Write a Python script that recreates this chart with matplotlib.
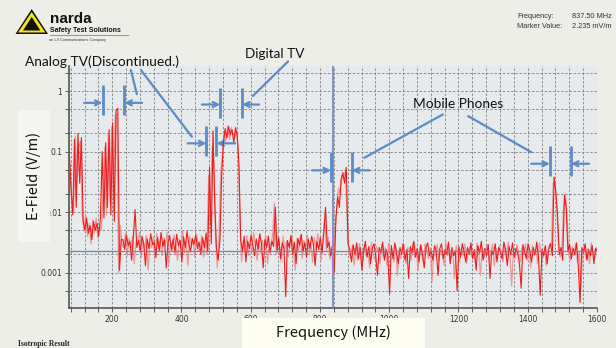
import numpy as np
import matplotlib
matplotlib.use("Agg")
import matplotlib.pyplot as plt
from matplotlib.patches import Rectangle, Polygon
from matplotlib.ticker import FixedLocator, NullFormatter, FixedFormatter

# ---------------- data (E-field in mV/m) ----------------
# main (red) trace: sweep from 76 MHz, 5 MHz step
RED_START_MHZ = 76
# overlay (pink) trace: sweep from 78.5 MHz, 5 MHz step
PINK_START_MHZ = 78.5
SWEEP_STEP_MHZ = 5

fm_band = [90, 25, 9, 160, 12, 200, 30, 170]
vhf_floor = [7, 5, 8, 4.5, 6, 3.5, 7, 5, 6.5, 4, 8]
vhf_analog_tv = [100, 8, 140, 12, 230, 9, 300, 7, 480, 520, 1.1, 3.5]
uhf_floor_1 = [3.5, 2.4, 4.2, 2.8, 3.3, 1.6, 3.9, 11, 2.6, 3.4,
               2.2, 4.0, 3.0, 1.3, 3.6, 2.5, 4.4, 2.9, 3.2, 1.8,
               3.8, 2.3, 4.6, 2.7, 3.5, 1.2, 3.1, 4.1, 2.4, 3.6,
               2.1, 4.3, 2.8, 3.4, 1.5, 3.9, 2.6, 4.8, 3.0, 2.2,
               3.7, 2.9, 4.2, 2.5]
uhf_analog_tv = [3.2, 2.0, 3.8, 2.6, 4.5, 2.2, 55, 3.0, 220, 15, 2.5, 1.6, 3.5]
digital_tv = [40, 140, 240, 170, 260, 190, 230, 140, 250, 180, 60]
uhf_floor_2 = [3.5, 2.2, 4.0, 1.5, 3.3, 2.5, 4.2, 2.8, 1.9, 3.6,
               2.4, 4.4, 3.0, 1.2, 3.5, 2.6, 4.0, 2.1, 3.3, 2.7,
               12, 2.3, 3.8, 1.7, 3.1, 2.5, 0.4, 3.4, 2.6, 4.1,
               2.0, 3.2, 1.4, 3.7, 2.8, 4.3, 2.2, 3.1, 1.8, 3.6,
               2.5, 4.0, 2.9, 1.3, 3.3, 2.4, 3.8, 2.1, 4.5, 12,
               2.6, 3.2, 1.9, 2.8, 1.0]
gsm_900 = [8, 18, 12, 35, 45, 30, 55, 3.0]
lband_floor = [2.4, 1.5, 2.9, 2.0, 3.1, 1.7, 2.6, 1.1, 2.3, 3.3,
               1.8, 2.7, 1.4, 2.5, 3.0, 1.9, 0.9, 2.6, 2.1, 3.2,
               1.6, 2.4, 1.9, 0.45, 2.8, 1.7, 3.1, 2.2, 1.4, 2.6,
               2.0, 3.0, 1.6, 2.4, 0.8, 2.7, 2.1, 3.3, 1.8, 2.5,
               1.5, 2.9, 2.0, 1.2, 2.6, 3.1, 1.9, 2.3, 1.6, 2.8,
               2.2, 0.9, 2.5, 3.0, 1.7, 2.4, 2.0, 3.2, 1.4, 2.6,
               1.9, 2.3, 0.5, 2.7, 1.8, 3.0, 2.2, 1.5, 2.6, 2.0,
               3.1, 1.7, 2.4, 1.1, 2.8, 2.1, 3.3, 1.6, 2.5, 1.9,
               2.9, 0.8, 2.3, 2.0, 3.0, 1.5, 2.6, 2.2, 1.7, 3.2,
               2.4, 1.3, 2.7, 2.0, 3.1, 1.8, 2.5, 2.1, 1.4, 0.55,
               2.9, 2.2, 1.7, 3.0, 2.3, 1.5, 2.6, 2.0, 3.2, 1.8,
               0.42, 2.4, 1.9, 2.8, 1.4, 2.5, 3.0, 1.9]
mobile_1500 = [38, 22, 9, 2.0, 2.6, 1.6, 19, 12, 2.3]
top_floor = [2.9, 1.7, 2.5, 2.0, 3.1, 1.3, 0.32, 2.6, 2.1, 3.0, 1.6, 2.4, 1.9, 2.8, 1.4, 2.5, 2.2]

pink_fm = [60, 14, 10, 180, 30, 120, 150, 9]
pink_vhf_floor = [5, 9, 4, 6.5, 3, 7.5, 4.5, 8, 3.8, 6, 5]
pink_vhf_tv = [20, 120, 9, 200, 14, 260, 10, 400, 420, 1.0, 6, 2.8]
pink_uhf_floor_1 = [2.6, 4.5, 1.9, 3.7, 2.2, 4.0, 1.4, 3.2, 2.9, 4.7,
                    1.8, 3.3, 2.4, 4.1, 1.1, 3.0, 2.6, 3.9, 1.7, 4.4,
                    2.5, 3.4, 1.9, 3.8, 2.8, 4.6, 1.4, 3.2, 2.3, 4.2,
                    3.0, 1.6, 3.6, 2.5, 4.9, 2.1, 3.3, 1.3, 4.0, 2.7,
                    3.5, 1.8, 4.4, 2.3]
pink_uhf_analog = [2.4, 4.1, 1.8, 3.4, 2.0, 40, 6, 120, 60, 3.5, 1.2, 4.0, 45]
pink_dtv = [90, 200, 150, 270, 160, 250, 200, 170, 220, 120, 8]
pink_uhf_floor_2 = [1.5, 3.4, 2.3, 4.1, 1.9, 3.0, 2.2, 4.6, 2.7, 1.6,
                    3.7, 2.1, 3.4, 2.5, 4.2, 1.4, 3.1, 2.8, 4.3, 14,
                    2.0, 3.5, 2.6, 1.5, 4.0, 2.3, 3.3, 1.8, 2.9, 3.9,
                    2.4, 1.1, 3.6, 2.2, 4.1, 1.7, 3.4, 2.7, 4.2, 2.0,
                    3.2, 1.5, 3.8, 2.4, 4.4, 2.9, 1.6, 3.5, 8, 2.3,
                    3.9, 1.7, 2.6, 0.8, 5]
pink_gsm = [12, 25, 20, 40, 35, 50, 8, 2.0]
pink_lband = [1.8, 2.8, 1.3, 2.5, 1.6, 3.0, 2.1, 1.5, 2.9, 1.9,
              2.4, 1.2, 3.2, 2.0, 1.6, 2.7, 2.2, 1.4, 2.9, 1.8,
              2.6, 1.3, 3.1, 1.9, 2.3, 1.5, 2.8, 0.9, 2.4, 1.7,
              3.0, 2.0, 1.4, 2.6, 2.2, 1.6, 3.1, 1.8, 2.4, 1.1,
              2.7, 2.0, 1.5, 3.0, 2.3, 1.7, 2.6, 0.7, 2.1, 1.9,
              2.9, 1.6, 2.4, 2.0, 1.3, 3.2, 1.9, 2.5, 1.7, 2.2,
              0.8, 2.8, 2.1, 1.5, 2.6, 1.9, 3.0, 1.4, 2.3, 2.7,
              1.8, 2.2, 1.5, 3.1, 2.0, 0.9, 2.6, 1.7, 2.4, 2.9,
              1.6, 2.2, 3.0, 1.3, 2.5, 1.9, 2.8, 2.1, 1.5, 2.7,
              1.8, 3.2, 2.0, 0.6, 2.4, 1.7, 2.9, 2.2, 1.5, 2.6,
              2.0, 3.0, 1.6, 2.3, 1.2, 2.8, 1.9, 2.5, 1.4, 3.1,
              2.1, 1.7, 2.6, 1.3, 2.4, 3.0, 2.8, 30]
pink_mobile = [30, 14, 3.0, 1.8, 2.5, 12, 20, 9, 1.9]
pink_top = [1.6, 2.7, 1.9, 3.0, 1.5, 2.3, 0.5, 2.0, 2.8, 1.7, 2.5, 1.4, 3.1, 2.2, 1.8, 2.6, 2.0]

marker_freq_mhz = 837.5
marker_value_vpm = 0.002235

# annotated bands (MHz)
band_labels = ["Analog TV", "Analog TV", "Digital TV", "Mobile Phones", "Mobile Phones"]
band_lo = [172, 472, 512, 832, 1464]
band_hi = [235, 501, 575, 892, 1525]

x_major = [200, 400, 600, 800, 1000, 1200, 1400, 1600]
y_major = [0.001, 0.01, 0.1, 1]
y_major_labels = ["0.001", "0.01", "0.1", "1"]

# ---------------- assemble traces ----------------
red_mv = np.array(fm_band + vhf_floor + vhf_analog_tv + uhf_floor_1 + uhf_analog_tv +
                  digital_tv + uhf_floor_2 + gsm_900 + lband_floor + mobile_1500 + top_floor,
                  dtype=float)
pink_mv = np.array(pink_fm + pink_vhf_floor + pink_vhf_tv + pink_uhf_floor_1 + pink_uhf_analog +
                   pink_dtv + pink_uhf_floor_2 + pink_gsm + pink_lband + pink_mobile + pink_top,
                   dtype=float)
red_f = RED_START_MHZ + SWEEP_STEP_MHZ * np.arange(len(red_mv))
pink_f = PINK_START_MHZ + SWEEP_STEP_MHZ * np.arange(len(pink_mv))

W, H = 616, 348
fig = plt.figure(figsize=(W / 100, H / 100), dpi=100, facecolor="#EEEEE9")

def fx(px):
    return px / W

def fy(py):
    return 1 - py / H

# label boxes
fig.patches.append(Rectangle((fx(18), fy(242)), fx(50) - fx(18), fy(110) - fy(242),
                             transform=fig.transFigure, facecolor="#F5F5F1", edgecolor="none", zorder=0))
fig.patches.append(Rectangle((fx(242), fy(348)), fx(425) - fx(242), fy(318) - fy(348),
                             transform=fig.transFigure, facecolor="#FDFDF2", edgecolor="none", zorder=0))

ax = fig.add_axes([fx(69.3), fy(308), fx(597) - fx(69.3), fy(66) - fy(308)])
ax.set_facecolor("#E6EAEC")
ax.set_yscale("log")
ax.set_xlim(76, 1600)
ax.set_ylim(2.6e-4, 2.6)

ax.xaxis.set_major_locator(FixedLocator(x_major))
ax.xaxis.set_minor_locator(FixedLocator(list(range(80, 1601, 40))))
ax.yaxis.set_major_locator(FixedLocator(y_major))
ax.yaxis.set_major_formatter(FixedFormatter(y_major_labels))
ax.yaxis.set_minor_locator(FixedLocator([5e-4, 2e-3, 5e-3, 2e-2, 5e-2, 0.2, 0.5, 2]))
ax.yaxis.set_minor_formatter(NullFormatter())
ax.grid(which="both", color="#808080", ls=(0, (3, 2)), lw=0.6)
ax.set_axisbelow(True)
ax.tick_params(which="both", direction="out", length=3, width=0.6, colors="#444444",
               labelsize=5.5, labelcolor="#333333", pad=2)
for s in ("top", "right"):
    ax.spines[s].set_visible(False)
for s in ("left", "bottom"):
    ax.spines[s].set_color("#555555")
    ax.spines[s].set_linewidth(1.2)

ax.plot(pink_f, pink_mv / 1000.0, color="#F07C7C", lw=0.9, alpha=0.75, zorder=3)
ax.plot(red_f, red_mv / 1000.0, color="#EE1C1C", lw=0.8, zorder=4)
ax.axhline(marker_value_vpm, color="#7383C0", lw=0.9, zorder=5)
ax.axvline(marker_freq_mhz, color="#8090C8", lw=1.4, zorder=5)

# ---------------- annotations ----------------
BLUE = "#5B8BC6"
# (bar bottom, bar top, arrow level, left arrow start, right arrow start)
bracket_layout = [
    (0.40, 1.24, 0.64, 119, 286),
    (0.084, 0.264, 0.137, 418, 555),
    (0.36, 1.13, 0.60, 459, 624),
    (0.031, 0.098, 0.049, 777, 943),
    (0.039, 0.123, 0.063, 1410, 1577),
]
for lo, hi, (yb, yt, ya, la, ra) in zip(band_lo, band_hi, bracket_layout):
    for xb in (lo, hi):
        ax.plot([xb, xb], [yb, yt], color=BLUE, lw=2, clip_on=False, zorder=6,
                solid_capstyle="butt")
    ax.annotate("", xy=(lo, ya), xytext=(la, ya), annotation_clip=False,
                arrowprops=dict(arrowstyle="->", color=BLUE, lw=1.6, mutation_scale=9,
                                shrinkA=0, shrinkB=0))
    ax.annotate("", xy=(hi, ya), xytext=(ra, ya), annotation_clip=False,
                arrowprops=dict(arrowstyle="->", color=BLUE, lw=1.6, mutation_scale=9,
                                shrinkA=0, shrinkB=0))

leaders = [
    ((254, 2.22), (271, 0.89)),
    ((283, 2.22), (430, 0.176)),
    ((708, 3.1), (606, 0.83)),
    ((1155, 0.412), (928, 0.079)),
    ((1228, 0.386), (1410, 0.098)),
]
for start, end in leaders:
    ax.annotate("", xy=end, xytext=start, annotation_clip=False,
                arrowprops=dict(arrowstyle="-", color=BLUE, lw=1.6, shrinkA=0, shrinkB=0))

AF = ["Lato", "DejaVu Sans"]
fig.text(fx(25), fy(66), "Analog TV(Discontinued.)", family=AF, fontsize=9.9,
         ha="left", va="baseline", color="#111111")
fig.text(fx(245), fy(58), "Digital TV", family=AF, fontsize=9.7,
         ha="left", va="baseline", color="#111111")
fig.text(fx(413), fy(108), "Mobile Phones", family=AF, fontsize=9.9,
         ha="left", va="baseline", color="#111111")

# axis labels
LF = ["Noto Sans CJK JP", "DejaVu Sans"]
fig.text(fx(34), fy(176), "E-Field (V/m)", family=LF, fontsize=10.5, rotation=90,
         ha="center", va="center", color="#111111")
fig.text(fx(333), fy(333), "Frequency (MHz)", family=LF, fontsize=10.5,
         ha="center", va="center", color="#111111")

# header: logo
fig.patches.append(Polygon([(fx(31.7), fy(9)), (fx(15.5), fy(34)), (fx(48), fy(34))],
                           closed=True, transform=fig.transFigure, facecolor="#111111",
                           edgecolor="none"))
fig.patches.append(Polygon([(fx(31.7), fy(12)), (fx(18), fy(32.5)), (fx(45.4), fy(32.5))],
                           closed=True, transform=fig.transFigure, facecolor="#F3E51A",
                           edgecolor="none"))
fig.patches.append(Polygon([(fx(31.7), fy(17)), (fx(23), fy(30.5)), (fx(40.4), fy(30.5))],
                           closed=True, transform=fig.transFigure, facecolor="#111111",
                           edgecolor="none"))
HF = ["Liberation Sans", "DejaVu Sans"]
fig.text(fx(50), fy(23), "narda", family=HF, fontweight="bold", fontsize=11,
         ha="left", va="baseline", color="#111111")
fig.text(fx(50), fy(31.5), "Safety Test Solutions", family=HF, fontweight="bold", fontsize=5,
         ha="left", va="baseline", color="#111111")
fig.add_artist(plt.Line2D([fx(50), fx(128)], [fy(34.5), fy(34.5)], transform=fig.transFigure,
                          color="#999999", lw=0.8))
fig.text(fx(49), fy(40.5), "an L3 Communications Company", family=HF, fontsize=2.8,
         ha="left", va="baseline", color="#333333")

# header: marker readout
RF = ["Liberation Sans", "DejaVu Sans"]
fig.text(fx(517), fy(18.3), "Frequency:", family=RF, fontsize=5.3, ha="left", va="baseline", color="#333333")
fig.text(fx(612), fy(18.3), "837.50 MHz", family=RF, fontsize=5.3, ha="right", va="baseline", color="#333333")
fig.text(fx(517), fy(28.3), "Marker Value:", family=RF, fontsize=5.3, ha="left", va="baseline", color="#333333")
fig.text(fx(612), fy(28.3), "2.235 mV/m", family=RF, fontsize=5.3, ha="right", va="baseline", color="#333333")

fig.text(fx(18), fy(346), "Isotropic Result", family=["Liberation Serif", "DejaVu Serif"],
         fontweight="bold", fontsize=5.5, ha="left", va="baseline", color="#222222")

fig.savefig("out.png", dpi=100, facecolor=fig.get_facecolor())
